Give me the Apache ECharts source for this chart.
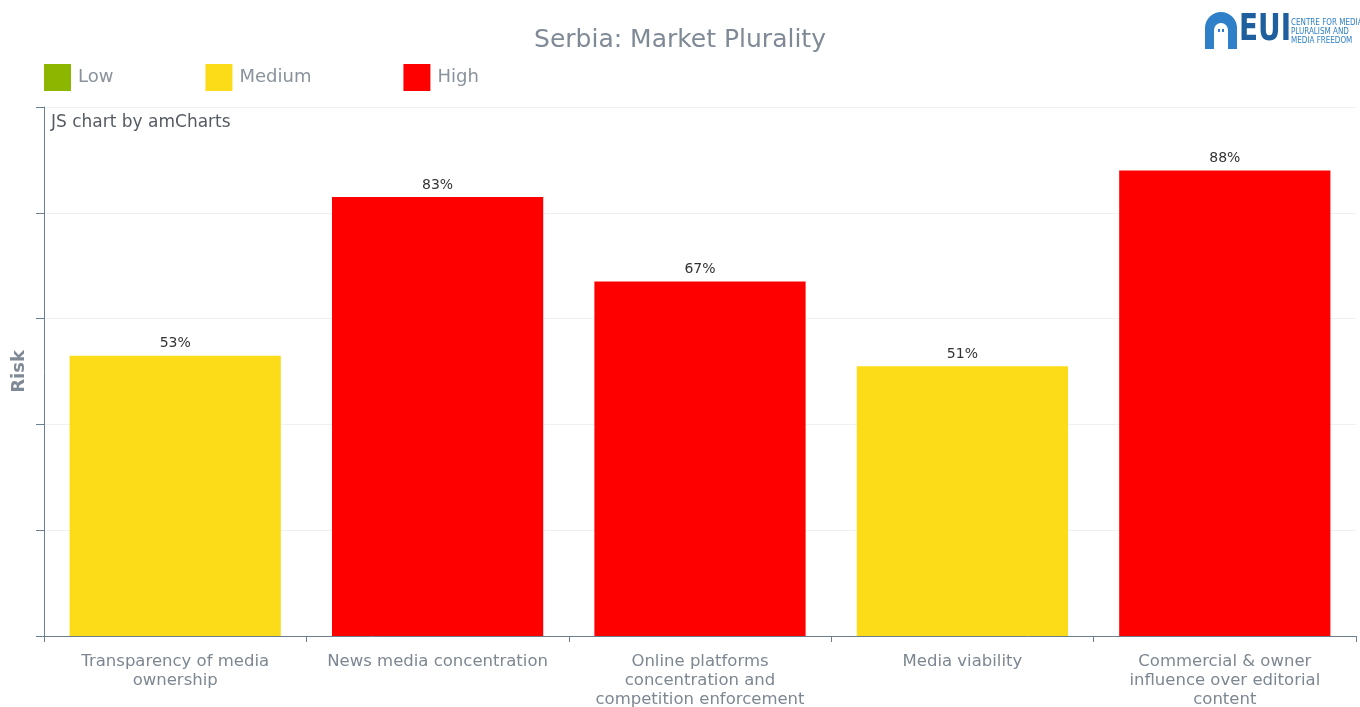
<!DOCTYPE html>
<html>
<head>
<meta charset="utf-8">
<title>Serbia: Market Plurality</title>
<script src="https://cdn.jsdelivr.net/npm/echarts@6/dist/echarts.min.js"></script>
<style>
  html, body { margin: 0; padding: 0; background: #ffffff; }
  #chart { width: 1360px; height: 707px; }
</style>
</head>
<body>
<div id="chart"></div>
<script>
// Indicator areas of the Market Plurality domain
const categories = [
  'Transparency of media\nownership',
  'News media concentration',
  'Online platforms\nconcentration and\ncompetition enforcement',
  'Media viability',
  'Commercial & owner\ninfluence over editorial\ncontent'
];

// Risk scores (%) split by risk band; null where a category is in another band
const lowValues = [null, null, null, null, null];
const mediumValues = [53, null, null, 51, null];
const highValues = [null, 83, 67, null, 88];

const bandNames = ['Low', 'Medium', 'High'];
const bandColors = ['#8db600', '#fcdc18', '#ff0000'];

const yTicks = [0, 20, 40, 60, 80, 100];

const textGrey = '#7d8791';
const axisColor = '#6b7f91';
const fontFamily = '"DejaVu Sans", Verdana, sans-serif';
const logoBlue = '#2f80c8';

function bandSeries(name, values, color) {
  return {
    name: name,
    type: 'bar',
    stack: 'risk',
    barWidth: '80.5%',
    data: values,
    itemStyle: { color: color },
    label: {
      show: true,
      position: 'top',
      distance: 5,
      formatter: '{c}%',
      color: '#333333',
      fontSize: 14,
      fontFamily: fontFamily
    },
    emphasis: { disabled: true }
  };
}

const chart = echarts.init(document.getElementById('chart'), null, { renderer: 'canvas' });

chart.setOption({
  animation: false,
  backgroundColor: '#ffffff',
  title: {
    text: 'Serbia: Market Plurality',
    left: 'center',
    top: 28,
    padding: 0,
    textStyle: { color: '#7f8a96', fontSize: 25, fontWeight: 'normal', fontFamily: fontFamily }
  },
  legend: {
    data: bandNames,
    left: 44,
    top: 64,
    padding: 0,
    icon: 'rect',
    itemWidth: 27,
    itemHeight: 27,
    itemGap: 92,
    selectedMode: false,
    textStyle: { color: '#8a939c', fontSize: 18, fontFamily: fontFamily, padding: [0, 0, 0, 2] }
  },
  grid: { left: 44, right: 4, top: 107, bottom: 71, containLabel: false, outerBoundsMode: 'none' },
  xAxis: {
    type: 'category',
    data: categories,
    axisLine: { show: true, lineStyle: { color: axisColor, width: 1 } },
    axisTick: { show: true, length: 6, lineStyle: { color: axisColor } },
    axisLabel: {
      color: textGrey,
      fontSize: 16.5,
      fontFamily: fontFamily,
      lineHeight: 19,
      margin: 16,
      interval: 0,
      align: 'center'
    }
  },
  yAxis: {
    type: 'value',
    min: yTicks[0],
    max: yTicks[yTicks.length - 1],
    interval: yTicks[1] - yTicks[0],
    name: 'Risk',
    nameLocation: 'middle',
    nameGap: 16,
    nameTextStyle: { color: '#7f8a96', fontSize: 18, fontWeight: 'bold', fontFamily: fontFamily },
    axisLine: { show: true, lineStyle: { color: axisColor, width: 1 } },
    axisTick: { show: true, inside: false, length: 8, lineStyle: { color: axisColor } },
    axisLabel: { show: false },
    splitLine: { show: true, lineStyle: { color: '#f0f0f0', width: 1 } }
  },
  series: [
    bandSeries(bandNames[0], lowValues, bandColors[0]),
    bandSeries(bandNames[1], mediumValues, bandColors[1]),
    bandSeries(bandNames[2], highValues, bandColors[2])
  ],
  graphic: [
    {
      type: 'text',
      left: 51,
      top: 114,
      style: { text: 'JS chart by amCharts', fill: '#555b62', font: '17px ' + fontFamily }
    },
    // EUI centre logo: arched doorway, wordmark and centre name
    {
      type: 'group',
      left: 1205,
      top: 12,
      children: [
        { type: 'circle', shape: { cx: 16, cy: 16, r: 16 }, style: { fill: logoBlue } },
        { type: 'rect', shape: { x: 0, y: 16, width: 32, height: 21 }, style: { fill: logoBlue } },
        { type: 'circle', shape: { cx: 16, cy: 18, r: 7 }, style: { fill: '#ffffff' } },
        { type: 'rect', shape: { x: 9, y: 18, width: 14, height: 19 }, style: { fill: '#ffffff' } },
        { type: 'rect', shape: { x: 13, y: 17, width: 2, height: 3 }, style: { fill: logoBlue } },
        { type: 'rect', shape: { x: 17, y: 17, width: 2, height: 3 }, style: { fill: logoBlue } },
        {
          type: 'text',
          x: 34,
          y: 0,
          scaleY: 1.2,
          style: {
            text: 'EUI',
            fill: '#1f5f9e',
            font: 'bold 31px "Liberation Sans Narrow", "DejaVu Sans Condensed", sans-serif'
          }
        },
        {
          type: 'text',
          x: 86,
          y: 6,
          style: {
            text: 'CENTRE FOR MEDIA\nPLURALISM AND\nMEDIA FREEDOM',
            fill: logoBlue,
            lineHeight: 9,
            font: '8px "DejaVu Sans Condensed", sans-serif'
          }
        }
      ]
    }
  ]
});
</script>
</body>
</html>
